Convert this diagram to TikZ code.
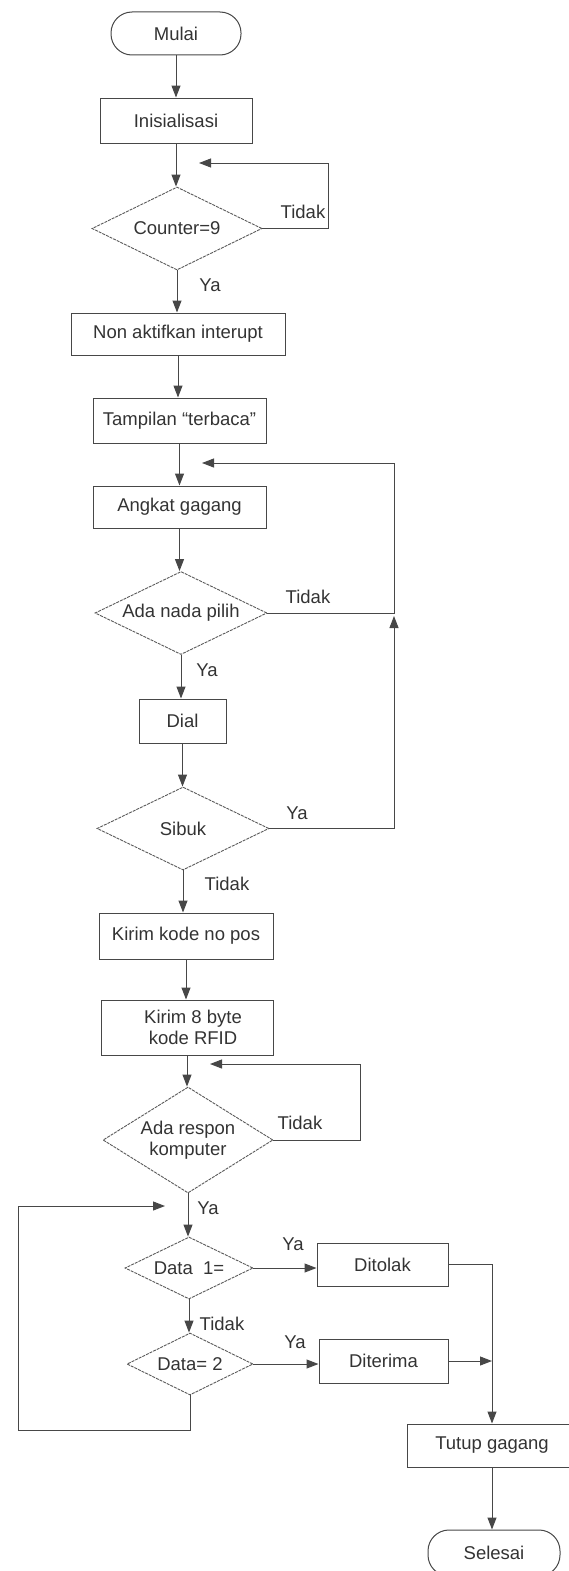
\documentclass[tikz,border=0pt]{standalone}
\usepackage{fontspec}
\setmainfont{Liberation Sans}
\usetikzlibrary{shapes.geometric,arrows.meta}
\begin{document}
\begin{tikzpicture}[x=1pt,y=-1pt,
  every node/.style={font=\fontsize{18.5}{21}\selectfont, text=black!80},
  ln/.style={draw=black!72, line width=1pt},
  arr/.style={ln, -{Triangle[length=12pt,width=9pt]}},
  procbox/.style={ln, rectangle, inner sep=0pt, align=center},
  termbox/.style={ln, rectangle, rounded corners=21pt, inner sep=0pt},
  decbox/.style={draw=black!65, line width=0.9pt, dash pattern=on 3pt off 1pt, diamond, inner sep=-2pt, align=center},
  lbl/.style={inner sep=0pt}
]
\useasboundingbox (0,0) rectangle (568,1571);
% nodes
\node[termbox, minimum width=130pt, minimum height=43pt] (mulai) at (176,33.5) {Mulai};
\node[procbox, minimum width=152pt, minimum height=45pt] (init) at (176,120.5) {Inisialisasi};
\node[decbox, minimum width=170pt, minimum height=83pt, shape aspect=2] (counter) at (177,228.5) {Counter=9};
\node[procbox, minimum width=214pt, minimum height=42pt] (nonaktif) at (178,334) {Non aktifkan interupt};
\node[procbox, minimum width=173pt, minimum height=45pt] (tampil) at (179.5,420.5) {Tampilan “terbaca”};
\node[procbox, minimum width=173pt, minimum height=42pt] (angkat) at (179.5,507) {Angkat gagang};
\node[decbox, minimum width=172pt, minimum height=83pt, shape aspect=2] (nada) at (181,613) {Ada nada pilih};
\node[procbox, minimum width=87pt, minimum height=44pt] (dial) at (182.5,721) {Dial};
\node[decbox, minimum width=172pt, minimum height=83pt, shape aspect=2] (sibuk) at (183,828.5) {Sibuk};
\node[procbox, minimum width=174pt, minimum height=46pt] (kirimpos) at (186,936) {Kirim kode no pos};
\node[procbox, minimum width=172pt, minimum height=55pt] (kirim8) at (187,1027.5) {\hspace*{12pt}Kirim 8 byte\\\hspace*{12pt}kode RFID};
\node[decbox, minimum width=170pt, minimum height=106pt, shape aspect=1.6] (respon) at (188,1140) {Ada respon\\komputer};
\node[decbox, minimum width=128pt, minimum height=62pt, shape aspect=2] (data1) at (189,1268) {Data\ \ 1=};
\node[decbox, minimum width=126pt, minimum height=62pt, shape aspect=2] (data2) at (190,1364) {Data= 2};
\node[procbox, minimum width=131pt, minimum height=43pt] (ditolak) at (382.5,1264.5) {Ditolak};
\node[procbox, minimum width=129pt, minimum height=44pt] (diterima) at (383.5,1361) {Diterima};
\node[procbox, minimum width=170pt, minimum height=43pt] (tutup) at (492,1445.5) {Tutup gagang};
\node[termbox, minimum width=132pt, minimum height=46pt] (selesai) at (494,1553) {Selesai};
% labels
\node[lbl] (l1) at (303,212) {Tidak};
\node[lbl] (l2) at (210,285) {Ya};
\node[lbl] (l3) at (308,597) {Tidak};
\node[lbl] (l4) at (207,670) {Ya};
\node[lbl] (l5) at (297,813) {Ya};
\node[lbl] (l6) at (227,884) {Tidak};
\node[lbl] (l7) at (300,1123) {Tidak};
\node[lbl] (l8) at (208,1208) {Ya};
\node[lbl] (l9) at (293,1244) {Ya};
\node[lbl] (l10) at (222,1324) {Tidak};
\node[lbl] (l11) at (295,1342) {Ya};
% coordinates
\coordinate (c1) at (199,163);
\coordinate (k1) at (328,163);
\coordinate (c2) at (202,463);
\coordinate (k2) at (394,463);
\coordinate (j1) at (394,616);
\coordinate (c3) at (210,1064);
\coordinate (k3) at (360,1064);
\coordinate (k4) at (18,1430);
\coordinate (c4) at (165,1206);
% connectors
\draw[arr] (mulai.south) -- (mulai.south |- init.north);
\draw[arr] (init.south) -- (init.south |- counter.north);
\draw[arr] (counter.east) -| (k1) -- (c1);
\draw[arr] (counter.south) -- (counter.south |- nonaktif.north);
\draw[arr] (nonaktif.south) -- (nonaktif.south |- tampil.north);
\draw[arr] (tampil.south) -- (tampil.south |- angkat.north);
\draw[arr] (angkat.south) -- (angkat.south |- nada.north);
\draw[arr] (nada.east) -| (k2) -- (c2);
\draw[arr] (nada.south) -- (nada.south |- dial.north);
\draw[arr] (dial.south) -- (dial.south |- sibuk.north);
\draw[arr] (sibuk.east) -| (j1);
\draw[arr] (sibuk.south) -- (sibuk.south |- kirimpos.north);
\draw[arr] (kirimpos.south) -- (kirimpos.south |- kirim8.north);
\draw[arr] (kirim8.south) -- (kirim8.south |- respon.north);
\draw[arr] (respon.east) -| (k3) -- (c3);
\draw[arr] (respon.south) -- (respon.south |- data1.north);
\draw[arr] (data1.east) -- (data1.east -| ditolak.west);
\draw[arr] (data1.south) -- (data1.south |- data2.north);
\draw[arr] (data2.east) -- (data2.east -| diterima.west);
\draw[arr] (data2.south) |- (k4) |- (c4);
\draw[arr] (ditolak.east) -| (tutup.north);
\draw[arr] (diterima.east) -- (diterima.east -| tutup.north);
\draw[arr] (tutup.south) -- (tutup.south |- selesai.north);
\end{tikzpicture}
\end{document}
